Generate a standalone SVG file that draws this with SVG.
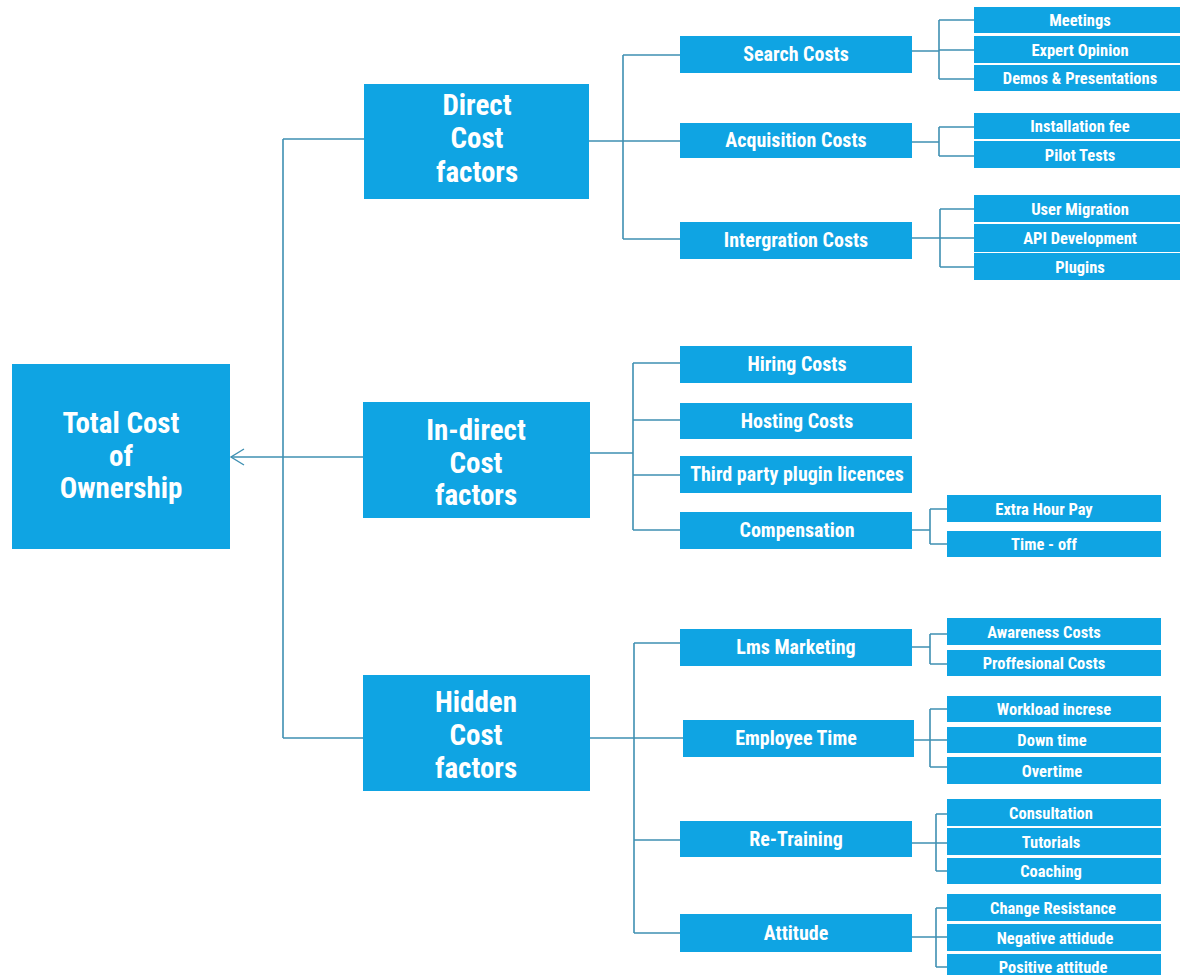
<svg xmlns="http://www.w3.org/2000/svg" width="1180" height="975" viewBox="0 0 1180 975">
<style>
.n{fill:#0fa4e3}
.c{fill:none;stroke:#3f90b2;stroke-width:1.6}
text{fill:#fff;font-family:"Roboto Condensed","Liberation Sans Narrow","DejaVu Sans Condensed","Liberation Sans",sans-serif;font-weight:bold;text-anchor:middle}
.t1{font-size:29px}
.t2{font-size:20px}
.t3{font-size:16.5px}
</style>
<defs>
<marker id="arr" markerWidth="16" markerHeight="18" refX="14" refY="9" orient="auto" markerUnits="userSpaceOnUse">
<path d="M1,1 L14,9 L1,17" fill="none" stroke="#3f90b2" stroke-width="1.4"/>
</marker>
</defs>
<rect width="1180" height="975" fill="#fff"/>
<g id="connectors">
<path class="c" d="M283,139 V738 M283,139 H364 M283,738 H363"/>
<path class="c" d="M363,457 H231" marker-end="url(#arr)"/>
<path class="c" d="M589,141 H623 M623,55 V239 M623,55 H680 M623,141 H680 M623,239 H680"/>
<path class="c" d="M912,51 H939 M939,20 V79 M939,20 H974 M939,50 H974 M939,79 H974"/>
<path class="c" d="M912,142 H939 M939,127 V156 M939,127 H974 M939,156 H974"/>
<path class="c" d="M912,238 H940 M940,209 V267 M940,209 H974 M940,238 H974 M940,267 H974"/>
<path class="c" d="M589,453 H633 M633,363 V530 M633,363 H680 M633,420 H680 M633,475 H680 M633,530 H680"/>
<path class="c" d="M912,530 H930 M930,509 V544 M930,509 H947 M930,544 H947"/>
<path class="c" d="M589,738 H634 M634,643 V933 M634,643 H680 M634,738 H683 M634,840 H680 M634,933 H680"/>
<path class="c" d="M912,647 H930 M930,634 V664 M930,634 H947 M930,664 H947"/>
<path class="c" d="M914,740 H930 M930,709 V767 M930,709 H947 M930,740 H947 M930,767 H947"/>
<path class="c" d="M912,843 H936 M936,814 V871 M936,814 H947 M936,843 H947 M936,871 H947"/>
<path class="c" d="M912,937 H936 M936,908 V967 M936,908 H947 M936,937 H947 M936,967 H947"/>
</g>
<g id="root"><rect class="n" x="12" y="364" width="218" height="185"/><text class="t1" x="121" y="433">Total Cost</text><text class="t1" x="121" y="466">of</text><text class="t1" x="121" y="498">Ownership</text></g>
<g id="direct"><rect class="n" x="364" y="84" width="225" height="115"/><text class="t1" x="477" y="115">Direct</text><text class="t1" x="477" y="148">Cost</text><text class="t1" x="477" y="182">factors</text></g>
<g id="indirect"><rect class="n" x="363" y="402" width="227" height="116"/><text class="t1" x="476" y="440">In-direct</text><text class="t1" x="476" y="473">Cost</text><text class="t1" x="476" y="505">factors</text></g>
<g id="hidden"><rect class="n" x="363" y="675" width="227" height="116"/><text class="t1" x="476" y="712">Hidden</text><text class="t1" x="476" y="745">Cost</text><text class="t1" x="476" y="778">factors</text></g>
<g id="search"><rect class="n" x="680" y="36" width="232" height="37"/><text class="t2" x="796" y="61">Search Costs</text></g>
<g id="acquisition"><rect class="n" x="680" y="123" width="232" height="35"/><text class="t2" x="796" y="147">Acquisition Costs</text></g>
<g id="integration"><rect class="n" x="680" y="222" width="232" height="37"/><text class="t2" x="796" y="247">Intergration Costs</text></g>
<g id="hiring"><rect class="n" x="680" y="346" width="232" height="37"/><text class="t2" x="797" y="371">Hiring Costs</text></g>
<g id="hosting"><rect class="n" x="680" y="403" width="232" height="36"/><text class="t2" x="797" y="428">Hosting Costs</text></g>
<g id="thirdparty"><rect class="n" x="680" y="456" width="232" height="37"/><text class="t2" x="797" y="481">Third party plugin licences</text></g>
<g id="compensation"><rect class="n" x="680" y="512" width="232" height="37"/><text class="t2" x="797" y="537">Compensation</text></g>
<g id="lms"><rect class="n" x="680" y="629" width="232" height="37"/><text class="t2" x="796" y="654">Lms Marketing</text></g>
<g id="employee"><rect class="n" x="683" y="720" width="231" height="37"/><text class="t2" x="796" y="745">Employee Time</text></g>
<g id="retraining"><rect class="n" x="680" y="821" width="232" height="36"/><text class="t2" x="796" y="846">Re-Training</text></g>
<g id="attitude"><rect class="n" x="680" y="914" width="232" height="38"/><text class="t2" x="796" y="940">Attitude</text></g>
<g id="meetings"><rect class="n" x="974" y="7" width="206" height="26"/><text class="t3" x="1080" y="26">Meetings</text></g>
<g id="expert"><rect class="n" x="974" y="36" width="206" height="27"/><text class="t3" x="1080" y="56">Expert Opinion</text></g>
<g id="demos"><rect class="n" x="974" y="65" width="206" height="26"/><text class="t3" x="1080" y="84">Demos &amp; Presentations</text></g>
<g id="installation"><rect class="n" x="974" y="113" width="206" height="26"/><text class="t3" x="1080" y="132">Installation fee</text></g>
<g id="pilot"><rect class="n" x="974" y="141" width="206" height="27"/><text class="t3" x="1080" y="161">Pilot Tests</text></g>
<g id="usermigration"><rect class="n" x="974" y="195" width="206" height="27"/><text class="t3" x="1080" y="215">User Migration</text></g>
<g id="api"><rect class="n" x="974" y="224" width="206" height="28"/><text class="t3" x="1080" y="244">API Development</text></g>
<g id="plugins"><rect class="n" x="974" y="253" width="206" height="27"/><text class="t3" x="1080" y="273">Plugins</text></g>
<g id="extrahour"><rect class="n" x="947" y="495" width="214" height="27"/><text class="t3" x="1044" y="515">Extra Hour Pay</text></g>
<g id="timeoff"><rect class="n" x="947" y="531" width="214" height="26"/><text class="t3" x="1044" y="550">Time - off</text></g>
<g id="awareness"><rect class="n" x="947" y="618" width="214" height="27"/><text class="t3" x="1044" y="638">Awareness Costs</text></g>
<g id="proffesional"><rect class="n" x="947" y="650" width="214" height="26"/><text class="t3" x="1044" y="669">Proffesional Costs</text></g>
<g id="workload"><rect class="n" x="947" y="696" width="214" height="26"/><text class="t3" x="1054" y="715">Workload increse</text></g>
<g id="downtime"><rect class="n" x="947" y="727" width="214" height="26"/><text class="t3" x="1052" y="746">Down time</text></g>
<g id="overtime"><rect class="n" x="947" y="757" width="214" height="27"/><text class="t3" x="1052" y="777">Overtime</text></g>
<g id="consultation"><rect class="n" x="947" y="799" width="214" height="27"/><text class="t3" x="1051" y="819">Consultation</text></g>
<g id="tutorials"><rect class="n" x="947" y="828" width="214" height="27"/><text class="t3" x="1051" y="848">Tutorials</text></g>
<g id="coaching"><rect class="n" x="947" y="858" width="214" height="26"/><text class="t3" x="1051" y="877">Coaching</text></g>
<g id="change"><rect class="n" x="947" y="894" width="214" height="27"/><text class="t3" x="1053" y="914">Change Resistance</text></g>
<g id="negative"><rect class="n" x="947" y="924" width="214" height="27"/><text class="t3" x="1055" y="944">Negative attidude</text></g>
<g id="positive"><rect class="n" x="947" y="954" width="214" height="26"/><text class="t3" x="1053" y="973">Positive attitude</text></g>
</svg>
